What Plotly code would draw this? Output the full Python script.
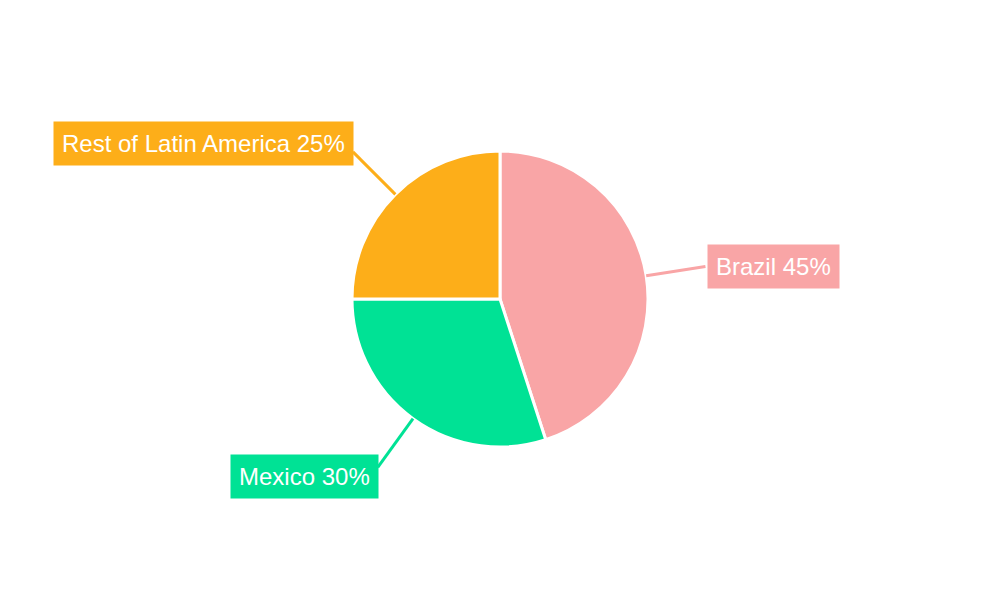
import math
import plotly.graph_objects as go

labels = ["Brazil", "Mexico", "Rest of Latin America"]
values = [45, 30, 25]
colors = ["#f9a5a6", "#00e295", "#fdae19"]

W, H = 1000, 600
CX, CY, R = 500, 299, 148
LINE_LEN = 60
LABEL_DY = [0, 9, -8]  # vertical nudge of each label box (px)

fig = go.Figure()
fig.add_trace(go.Pie(
    labels=labels, values=values, sort=False, direction="clockwise", rotation=0,
    marker=dict(colors=colors, line=dict(color="white", width=3)),
    textinfo="none", hoverinfo="label+percent", showlegend=False,
    domain=dict(x=[(CX - R) / W, (CX + R) / W], y=[(H - CY - R) / H, (H - CY + R) / H]),
))

total = sum(values)
cum = 0
annotations, shapes = [], []
for lab, val, col, dy in zip(labels, values, colors, LABEL_DY):
    mid = (cum + val / 2) / total * 2 * math.pi
    cum += val
    dx_, dy_ = math.sin(mid), math.cos(mid)
    x0, y0 = CX + R * dx_, CY - R * dy_
    x1, y1 = CX + (R + LINE_LEN) * dx_, CY - (R + LINE_LEN) * dy_
    shapes.append(dict(type="line", xref="paper", yref="paper",
                       x0=x0 / W, y0=1 - y0 / H, x1=x1 / W, y1=1 - y1 / H,
                       line=dict(color=col, width=3)))
    pct = round(val / total * 100)
    annotations.append(dict(
        xref="paper", yref="paper", x=(x1 + (2 if dx_ > 0 else 1)) / W, y=1 - (y1 + dy) / H,
        xanchor="left" if dx_ > 0 else "right", yanchor="middle",
        text=f"{lab} {pct}%", showarrow=False,
        font=dict(family="Liberation Sans, Arial, sans-serif", size=24, color="white"),
        bgcolor=col, borderpad=8,
    ))

fig.update_layout(
    width=W, height=H, margin=dict(l=0, r=0, t=0, b=0),
    paper_bgcolor="white", plot_bgcolor="white",
    annotations=annotations, shapes=shapes,
)
fig.write_html("out.html", config={"displayModeBar": False},
               post_script="document.body.style.margin='0';")
